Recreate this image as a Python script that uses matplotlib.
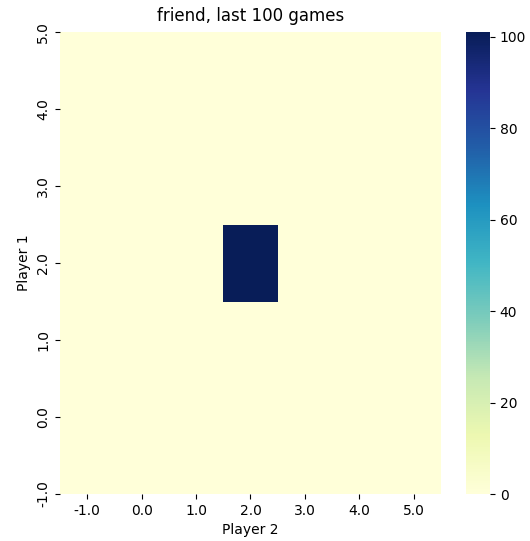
import numpy as np
import pandas as pd
import seaborn as sns
from matplotlib import pyplot as plt

# actions of each player, rows listed top to bottom as in the chart
p1_actions = [5.0, 4.0, 3.0, 2.0, 1.0, 0.0, -1.0]
p2_actions = [-1.0, 0.0, 1.0, 2.0, 3.0, 4.0, 5.0]
counts = [
    [0, 0, 0, 0, 0, 0, 0],
    [0, 0, 0, 0, 0, 0, 0],
    [0, 0, 0, 0, 0, 0, 0],
    [0, 0, 0, 101, 0, 0, 0],
    [0, 0, 0, 0, 0, 0, 0],
    [0, 0, 0, 0, 0, 0, 0],
    [0, 0, 0, 0, 0, 0, 0],
]


def main():
    df = pd.DataFrame(np.array(counts), index=p1_actions, columns=p2_actions)
    fig = plt.figure(figsize=(5.3, 5.41), dpi=100)
    ax = sns.heatmap(df, cmap='YlGnBu')
    ax.set_xticklabels([str(a) for a in p2_actions], rotation=0)
    ax.set_yticklabels([str(a) for a in p1_actions], rotation=90, va='center')
    # old matplotlib half-cell crop fix
    b, t = ax.get_ylim()
    ax.set_ylim(b - 0.5, t + 0.5)
    ax.set_xlabel('Player 2')
    ax.set_ylabel('Player 1')
    ax.set_title('friend, last 100 games', pad=8)
    cbar_ax = fig.axes[1]
    cbar_ax.set_axes_locator(None)
    cbar_ax.set_box_aspect(None)
    x0, y0, y1 = 60 / 530, 1 - 494 / 541, 1 - 32 / 541
    ax.set_position([x0, y0, 441 / 530 - x0, y1 - y0])
    cbar_ax.set_position([466 / 530, y0, 24 / 530, y1 - y0])
    plt.savefig('out.png', dpi=100)


if __name__ == '__main__':
    main()
